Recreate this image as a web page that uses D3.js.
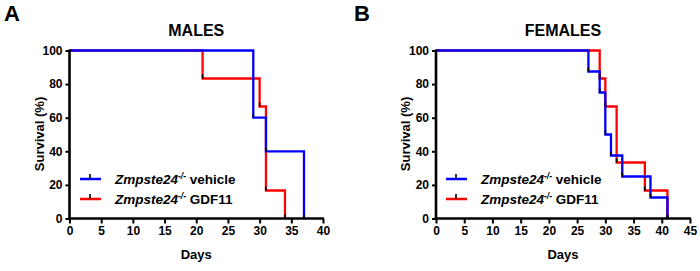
<!DOCTYPE html>
<html><head><meta charset="utf-8">
<script src="https://cdn.jsdelivr.net/npm/d3@7"></script>
<style>body{margin:0;background:#fff}svg{display:block;font-family:"Liberation Sans",Arial,sans-serif}</style>
</head><body><svg id="c" width="700" height="271"></svg>
<script>
// Kaplan-Meier step data: [day, survival %]
const malesVehicle = [[0,100],[29,60],[31,40],[37,0]];
const malesGDF11 = [[0,100],[21,83.33],[30,66.67],[31,16.67],[34,0]];
const femalesVehicle = [[0,100],[27,87.5],[29,75],[30,50],[31,37.5],[33,25],[38,12.5],[41,0]];
const femalesGDF11 = [[0,100],[29,83.33],[30,66.67],[32,33.33],[37,16.67],[41,0]];
const yTicks = [0,20,40,60,80,100];
const malesXTicks = [0,5,10,15,20,25,30,35,40];
const femalesXTicks = [0,5,10,15,20,25,30,35,40,45];
const legendLabels = ["vehicle","GDF11"];
const colors = ["#0000ff","#ff0000"];

const svg = d3.select("#c");

function panel(opts){
  const g = svg.append("g");
  const x = d3.scaleLinear().domain([0, opts.xmax]).range([opts.x0, opts.x1]);
  const y = d3.scaleLinear().domain([0,100]).range([218.5, 50.5]);
  g.append("text").attr("x", opts.lx).attr("y", 21).attr("font-size", 22).attr("font-weight","bold").text(opts.letter);
  g.append("text").attr("x", (opts.x0+opts.x1)/2).attr("y", 35.5).attr("text-anchor","middle")
    .attr("font-size", 16).attr("font-weight","bold").text(opts.title);
  const line = d3.line().x(d=>x(d[0])).y(d=>y(d[1])).curve(d3.curveStepAfter);
  // draw red (GDF11) first, blue (vehicle) on top
  [[opts.s2,1],[opts.s1,0]].forEach(([s,i])=>{
    g.append("path").datum(s).attr("d", line).attr("fill","none").attr("stroke", colors[i]).attr("stroke-width", 2.3);
  });
  [opts.s1, opts.s2].forEach(s=>{
    s.slice(1).forEach(d=>{
      g.append("line").attr("x1", x(d[0])).attr("x2", x(d[0])).attr("y1", y(d[1])).attr("y2", y(d[1])-4)
        .attr("stroke","#000").attr("stroke-width",1.6);
    });
  });
  const ya = d3.axisLeft(y).tickValues(yTicks).tickSize(4).tickPadding(3);
  const xa = d3.axisBottom(x).tickValues(opts.xticks).tickSize(5).tickPadding(3);
  const yg = g.append("g").attr("transform", `translate(${opts.x0},0)`).call(ya);
  const xg = g.append("g").attr("transform", `translate(0,218.5)`).call(xa);
  [yg,xg].forEach(a=>{
    a.select(".domain").attr("stroke","#000").attr("stroke-width",2.6);
    a.selectAll(".tick line").attr("stroke","#000").attr("stroke-width",2);
    a.selectAll("text").attr("font-size",12).attr("font-weight","bold").attr("fill","#000")
      .attr("font-family","Liberation Sans, Arial, sans-serif");
  });
  yg.select(".domain").attr("d", `M0,219.8V49.5`);
  xg.select(".domain").attr("d", `M${opts.x0-1.3},0H${opts.x1+1}`);
  g.append("text").attr("x", (opts.x0+opts.x1)/2).attr("y", 259).attr("text-anchor","middle")
    .attr("font-size",13).attr("font-weight","bold").text("Days");
  g.append("text").attr("transform", `translate(${opts.x0-26},134) rotate(-90)`).attr("text-anchor","middle")
    .attr("font-size",13).attr("font-weight","bold").text("Survival (%)");
  legendLabels.forEach((lab,i)=>{
    const ly = 179 + i*20;
    g.append("line").attr("x1", opts.legx).attr("x2", opts.legx+21).attr("y1", ly).attr("y2", ly)
      .attr("stroke", colors[i]).attr("stroke-width", 2.5);
    g.append("line").attr("x1", opts.legx+10).attr("x2", opts.legx+10).attr("y1", ly).attr("y2", ly-5)
      .attr("stroke", "#000").attr("stroke-width", 1.6);
    const t = g.append("text").attr("x", opts.legx+35).attr("y", ly+5).attr("font-size",13.5).attr("font-weight","bold");
    t.append("tspan").attr("font-style","italic").text("Zmpste24");
    t.append("tspan").attr("font-style","italic").attr("font-size",8.5).attr("dy",-5).text("-/-");
    t.append("tspan").attr("dy",5).text(" " + lab);
  });
}

panel({letter:"A", lx:4, title:"MALES", x0:69.5, x1:323, xmax:40, xticks:malesXTicks, s1:malesVehicle, s2:malesGDF11, legx:80});
panel({letter:"B", lx:354, title:"FEMALES", x0:436, x1:690, xmax:45, xticks:femalesXTicks, s1:femalesVehicle, s2:femalesGDF11, legx:446});
</script></body></html>
